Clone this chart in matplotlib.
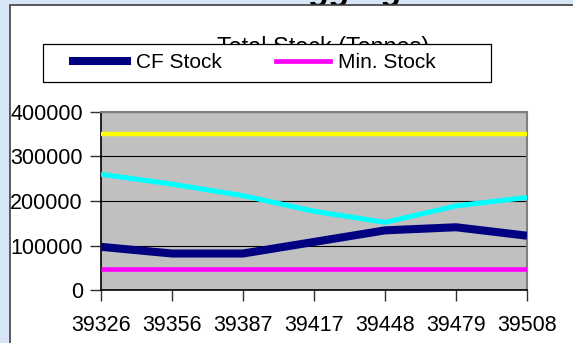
import matplotlib
matplotlib.use("Agg")
import matplotlib.pyplot as plt
from matplotlib.patches import Rectangle
from matplotlib.lines import Line2D

plt.rcParams['font.family'] = ['Liberation Sans', 'DejaVu Sans']

# Data
periods = ["39326", "39356", "39387", "39417", "39448", "39479", "39508"]
cf_stock = [97000, 82000, 82000, 108000, 134000, 141000, 122000]
total_stock = [260000, 238000, 212000, 177000, 152000, 189000, 208000]
max_stock = [351000, 351000, 351000, 351000, 351000, 351000, 351000]
min_stock = [47000, 47000, 47000, 47000, 47000, 47000, 47000]
y_ticks = [0, 100000, 200000, 300000, 400000]

W, H = 573, 343
fig = plt.figure(figsize=(W / 100, H / 100), dpi=100)
fig.patch.set_facecolor('#D6E6F6')


def fx(px):
    return px / W


def fy(py):
    return 1 - py / H


# Sheet heading, mostly hidden behind the chart area
fig.text(fx(332), fy(0), "CF Stock - Aggregate Stock", ha='center', va='baseline',
         fontsize=24, fontweight='bold', fontstyle='italic', color='black', zorder=-2)

# Chart area
fig.add_artist(Rectangle((fx(10), fy(400)), fx(620), fy(5) - fy(400),
                         transform=fig.transFigure, facecolor='white',
                         edgecolor='#404040', lw=1.2, zorder=-1))

ax = fig.add_axes([fx(101), fy(290), fx(527) - fx(101), fy(112) - fy(290)])
ax.set_facecolor('#C0C0C0')
x = list(range(len(periods)))
ax.plot(x, max_stock, color='#FFFF00', lw=3.2, solid_capstyle='butt', zorder=3)
ax.plot(x, total_stock, color='#00FFFF', lw=3.6, solid_capstyle='butt', zorder=3)
ax.plot(x, min_stock, color='#FF00FF', lw=3.3, solid_capstyle='butt', zorder=3)
ax.plot(x, cf_stock, color='#000080', lw=5.8, solid_capstyle='butt', zorder=4)

ax.set_xlim(0, len(periods) - 1)
ax.set_ylim(0, 400000)
ax.set_xticks(x)
ax.set_xticklabels(periods)
ax.set_yticks(y_ticks)
ax.set_yticklabels([str(v) for v in y_ticks])
ax.yaxis.grid(True, color='black', lw=0.8)
ax.set_axisbelow(True)
ax.tick_params(axis='both', direction='out', length=8, width=1, color='#303030',
               labelsize=15.5)
ax.tick_params(axis='x', pad=10)
ax.tick_params(axis='y', pad=5)
for side in ('left', 'bottom'):
    ax.spines[side].set_color('black')
    ax.spines[side].set_linewidth(1.2)
for side in ('top', 'right'):
    ax.spines[side].set_color('#808080')
    ax.spines[side].set_linewidth(1.5)

# Chart title, partly covered by the legend box
fig.text(fx(323), fy(54), "Total Stock (Tonnes)", ha='center', va='baseline',
         fontsize=16.8, color='black', zorder=1)

# Legend box
fig.add_artist(Rectangle((fx(43), fy(82)), fx(491) - fx(43), fy(44) - fy(82),
                         transform=fig.transFigure, facecolor='white',
                         edgecolor='black', lw=0.9, zorder=4))
handles = [Line2D([], [], color='#000080', lw=5.8),
           Line2D([], [], color='#FF00FF', lw=3.4)]
fig.legend(handles, ["CF Stock", "Min. Stock"], loc='center left',
           bbox_to_anchor=(fx(73), fy(63)), ncol=2, frameon=False,
           borderpad=0, borderaxespad=0, handlelength=2.6, handletextpad=0.4,
           columnspacing=2.6, fontsize=15)

fig.savefig("out.png", dpi=100)
